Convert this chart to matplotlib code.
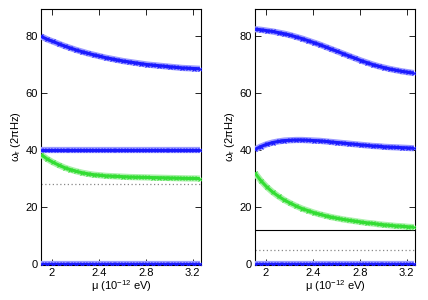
import matplotlib
matplotlib.use("Agg")
import matplotlib.pyplot as plt
import numpy as np

mu = [1.91, 1.96, 2.01, 2.06, 2.11, 2.16, 2.21, 2.26, 2.31, 2.36, 2.41, 2.46, 2.51, 2.56,
      2.61, 2.66, 2.71, 2.76, 2.81, 2.86, 2.91, 2.96, 3.01, 3.06, 3.11, 3.16, 3.21, 3.26]

# left panel
L_top = [80.0, 79.0, 78.2, 77.4, 76.6, 75.9, 75.2, 74.6, 74.0, 73.5, 73.0, 72.5, 72.1, 71.7,
         71.3, 71.0, 70.7, 70.4, 70.1, 69.9, 69.7, 69.5, 69.3, 69.1, 68.9, 68.8, 68.7, 68.6]
L_mid = [40.0] * 28
L_green = [38.5, 37.0, 35.8, 34.8, 33.9, 33.2, 32.6, 32.1, 31.7, 31.4, 31.2, 31.0, 30.9, 30.8,
           30.7, 30.6, 30.55, 30.5, 30.45, 30.4, 30.35, 30.3, 30.25, 30.2, 30.15, 30.1, 30.1, 30.05]
L_zero = [0.0] * 28
L_dotted = 28.1

# right panel
R_top = [82.5, 82.3, 82.0, 81.7, 81.3, 80.9, 80.4, 79.8, 79.2, 78.5, 77.8, 77.1, 76.3, 75.5,
         74.7, 73.9, 73.1, 72.3, 71.5, 70.8, 70.1, 69.5, 69.0, 68.5, 68.1, 67.7, 67.4, 67.1]
R_mid = [40.3, 41.3, 42.1, 42.7, 43.1, 43.4, 43.5, 43.6, 43.6, 43.5, 43.4, 43.3, 43.1, 42.9,
         42.7, 42.5, 42.3, 42.1, 41.9, 41.7, 41.5, 41.4, 41.2, 41.1, 41.0, 40.9, 40.8, 40.7]
R_green = [32.0, 29.3, 27.1, 25.3, 23.8, 22.5, 21.4, 20.4, 19.5, 18.8, 18.1, 17.5, 17.0, 16.5,
           16.1, 15.7, 15.4, 15.1, 14.8, 14.5, 14.3, 14.0, 13.8, 13.6, 13.4, 13.3, 13.1, 13.0]
R_zero = [0.0] * 28
R_solid = 12.0
R_dotted = 5.1

xticks = [2.0, 2.4, 2.8, 3.2]
xticklabels = ["2", "2.4", "2.8", "3.2"]
yticks = [0, 20, 40, 60, 80]

plt.rcParams['font.family'] = ['Liberation Sans', 'DejaVu Sans']
fig = plt.figure(figsize=(4.28, 3.0), dpi=100)
W, H = 428, 300
axL = fig.add_axes([41 / W, 1 - 265 / H, 160 / W, 256 / H])
axR = fig.add_axes([255 / W, 1 - 265 / H, 160 / W, 256 / H])


def band(ax, y, color, light):
    ax.plot(mu, y, color=light, lw=4.5, solid_capstyle='butt', zorder=3)
    ax.plot(mu, y, color=color, lw=2.2, marker='x', ms=3.5, mew=0.8,
            solid_capstyle='butt', zorder=4)


blue, lblue = '#1a1aff', '#9a9aff'
green, lgreen = '#33dd33', '#a8f0a8'

band(axL, L_top, blue, lblue)
band(axL, L_mid, blue, lblue)
band(axL, L_green, green, lgreen)
band(axL, L_zero, blue, lblue)
axL.axhline(L_dotted, color='#888888', lw=0.9, ls=(0, (1, 2)), zorder=2)

band(axR, R_top, blue, lblue)
band(axR, R_mid, blue, lblue)
band(axR, R_green, green, lgreen)
band(axR, R_zero, blue, lblue)
axR.axhline(R_solid, color='black', lw=0.8, zorder=2)
axR.axhline(R_dotted, color='#888888', lw=0.9, ls=(0, (1, 2)), zorder=2)

for ax in (axL, axR):
    ax.set_xlim(1.91, 3.27)
    ax.set_ylim(-0.3, 89.6)
    ax.set_xticks(xticks)
    ax.set_xticklabels(xticklabels)
    ax.set_yticks(yticks)
    ax.tick_params(direction='in', top=True, right=True, length=4, width=0.6,
                   labelsize=8, pad=2)
    for s in ax.spines.values():
        s.set_linewidth(0.8)
    ax.set_xlabel(r'$\mathregular{\mu}$ (10$^{\mathregular{-12}}$ eV)', fontsize=8, labelpad=0)
    ax.set_ylabel(r'$\mathregular{\omega_r}$ (2$\mathregular{\pi}$Hz)', fontsize=8)
    ax.yaxis.set_label_coords(-0.115, 0.5)

fig.savefig('out.png', dpi=100)
